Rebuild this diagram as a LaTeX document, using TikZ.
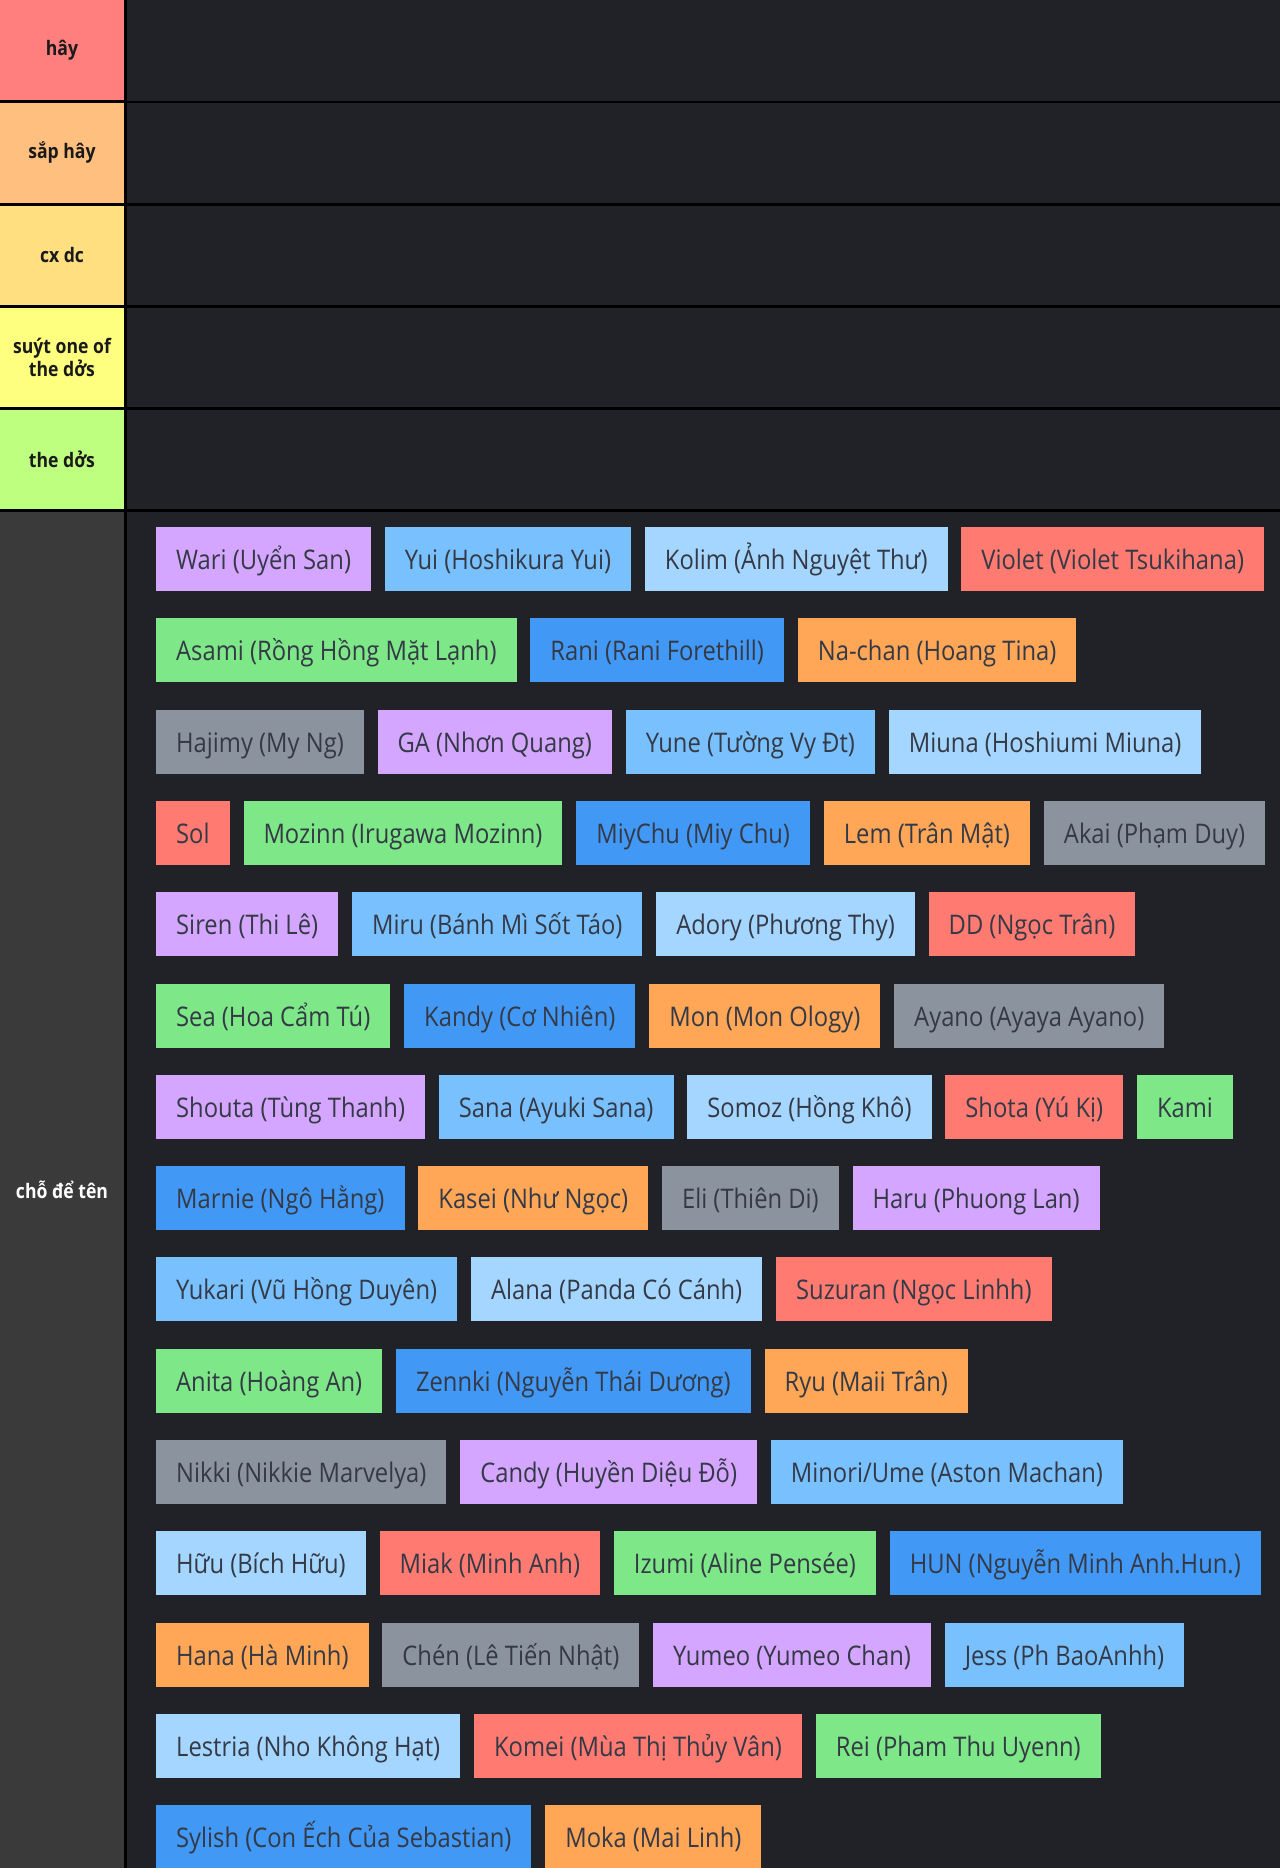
\documentclass[tikz,border=0pt]{standalone}
\usepackage{fontspec}
\usepackage{tikz}
\newfontfamily\tagfont[FakeStretch=0.88]{Open Sans}
\definecolor{INK}{HTML}{1A1A1A}
\definecolor{TXT}{HTML}{343946}
\definecolor{LANE}{HTML}{202228}
\definecolor{LASTLBL}{HTML}{3A3A3A}
\definecolor{HAY}{HTML}{FF7F7F}
\definecolor{SAPHAY}{HTML}{FFBF7F}
\definecolor{CXDC}{HTML}{FFDF7F}
\definecolor{SUYT}{HTML}{FFFF7F}
\definecolor{THEDO}{HTML}{BFFF7F}
\definecolor{PURPLE}{HTML}{D4A6FF}
\definecolor{SKY}{HTML}{79C0FF}
\definecolor{PALE}{HTML}{A5D6FF}
\definecolor{CORAL}{HTML}{FF7B72}
\definecolor{GREEN}{HTML}{7EE787}
\definecolor{BLUE}{HTML}{4299F5}
\definecolor{ORANGE}{HTML}{FFA657}
\definecolor{GREY}{HTML}{8B949E}

\begin{document}
\begin{tikzpicture}[x=1pt,y=-1pt]
\tikzset{tierlbl/.style={fill=#1,text=INK,minimum width=124,minimum height=99.5,inner sep=0,align=center,
 font=\tagfont\bfseries\fontsize{20}{23}\selectfont},
 tag/.style={fill=#1,text=TXT,anchor=west,minimum height=64,inner xsep=20,inner ysep=0,
 text height=22,text depth=1,font=\tagfont\fontsize{27}{30}\selectfont}}
\clip (0,0) rectangle (1280,1868);
\fill[black] (0,0) rectangle (1280,1868);
% tiers
\node[tierlbl=HAY] (hay) at (62,50.25) {hây};
\node[tierlbl=SAPHAY] (saphay) at (62,152.75) {sắp hây};
\node[tierlbl=CXDC] (cxdc) at (62,255.25) {cx dc};
\node[tierlbl=SUYT] (suyt) at (62,357.25) {suýt one of\\the dởs};
\node[tierlbl=THEDO] (thedo) at (62,459.25) {the dởs};
\fill[LASTLBL] (0,511.5) rectangle (124,1868);
\node[text=white,font=\tagfont\bfseries\fontsize{20}{23}\selectfont] (choten) at (62,1190) {chỗ để tên};
\fill[LANE] (127,0) rectangle (1280,100.5);
\fill[LANE] (127,103) rectangle (1280,202.5);
\fill[LANE] (127,205.5) rectangle (1280,305);
\fill[LANE] (127,307.5) rectangle (1280,407);
\fill[LANE] (127,409.5) rectangle (1280,509);
\fill[LANE] (127,511.5) rectangle (1280,1868);
% tags, one row per line group
\node[tag=PURPLE] (wari) at (156,559) {Wari (Uyển San)};
\node[tag=SKY] (yui) at ([xshift=13.5]wari.east) {Yui (Hoshikura Yui)};
\node[tag=PALE] (kolim) at ([xshift=13.5]yui.east) {Kolim (Ảnh Nguyệt Thư)};
\node[tag=CORAL] (violet) at ([xshift=13.5]kolim.east) {Violet (Violet Tsukihana)};
\node[tag=GREEN] (asami) at (156,650.3) {Asami (Rồng Hồng Mặt Lạnh)};
\node[tag=BLUE] (rani) at ([xshift=13.5]asami.east) {Rani (Rani Forethill)};
\node[tag=ORANGE] (nachan) at ([xshift=13.5]rani.east) {Na-chan (Hoang Tina)};
\node[tag=GREY] (hajimy) at (156,741.6) {Hajimy (My Ng)};
\node[tag=PURPLE] (ga) at ([xshift=13.5]hajimy.east) {GA (Nhơn Quang)};
\node[tag=SKY] (yune) at ([xshift=13.5]ga.east) {Yune (Tường Vy Đt)};
\node[tag=PALE] (miuna) at ([xshift=13.5]yune.east) {Miuna (Hoshiumi Miuna)};
\node[tag=CORAL] (sol) at (156,832.9) {Sol};
\node[tag=GREEN] (mozinn) at ([xshift=13.5]sol.east) {Mozinn (Irugawa Mozinn)};
\node[tag=BLUE] (miychu) at ([xshift=13.5]mozinn.east) {MiyChu (Miy Chu)};
\node[tag=ORANGE] (lem) at ([xshift=13.5]miychu.east) {Lem (Trân Mật)};
\node[tag=GREY] (akai) at ([xshift=13.5]lem.east) {Akai (Phạm Duy)};
\node[tag=PURPLE] (siren) at (156,924.2) {Siren (Thi Lê)};
\node[tag=SKY] (miru) at ([xshift=13.5]siren.east) {Miru (Bánh Mì Sốt Táo)};
\node[tag=PALE] (adory) at ([xshift=13.5]miru.east) {Adory (Phương Thy)};
\node[tag=CORAL] (dd) at ([xshift=13.5]adory.east) {DD (Ngọc Trân)};
\node[tag=GREEN] (sea) at (156,1015.5) {Sea (Hoa Cẩm Tú)};
\node[tag=BLUE] (kandy) at ([xshift=13.5]sea.east) {Kandy (Cơ Nhiên)};
\node[tag=ORANGE] (mon) at ([xshift=13.5]kandy.east) {Mon (Mon Ology)};
\node[tag=GREY] (ayano) at ([xshift=13.5]mon.east) {Ayano (Ayaya Ayano)};
\node[tag=PURPLE] (shouta) at (156,1106.8) {Shouta (Tùng Thanh)};
\node[tag=SKY] (sana) at ([xshift=13.5]shouta.east) {Sana (Ayuki Sana)};
\node[tag=PALE] (somoz) at ([xshift=13.5]sana.east) {Somoz (Hồng Khô)};
\node[tag=CORAL] (shota) at ([xshift=13.5]somoz.east) {Shota (Yú Kị)};
\node[tag=GREEN] (kami) at ([xshift=13.5]shota.east) {Kami};
\node[tag=BLUE] (marnie) at (156,1198.1) {Marnie (Ngô Hằng)};
\node[tag=ORANGE] (kasei) at ([xshift=13.5]marnie.east) {Kasei (Như Ngọc)};
\node[tag=GREY] (eli) at ([xshift=13.5]kasei.east) {Eli (Thiên Di)};
\node[tag=PURPLE] (haru) at ([xshift=13.5]eli.east) {Haru (Phuong Lan)};
\node[tag=SKY] (yukari) at (156,1289.4) {Yukari (Vũ Hồng Duyên)};
\node[tag=PALE] (alana) at ([xshift=13.5]yukari.east) {Alana (Panda Có Cánh)};
\node[tag=CORAL] (suzuran) at ([xshift=13.5]alana.east) {Suzuran (Ngọc Linhh)};
\node[tag=GREEN] (anita) at (156,1380.7) {Anita (Hoàng An)};
\node[tag=BLUE] (zennki) at ([xshift=13.5]anita.east) {Zennki (Nguyễn Thái Dương)};
\node[tag=ORANGE] (ryu) at ([xshift=13.5]zennki.east) {Ryu (Maii Trân)};
\node[tag=GREY] (nikki) at (156,1472) {Nikki (Nikkie Marvelya)};
\node[tag=PURPLE] (candy) at ([xshift=13.5]nikki.east) {Candy (Huyền Diệu Đỗ)};
\node[tag=SKY] (minori) at ([xshift=13.5]candy.east) {Minori/Ume (Aston Machan)};
\node[tag=PALE] (huu) at (156,1563.3) {Hữu (Bích Hữu)};
\node[tag=CORAL] (miak) at ([xshift=13.5]huu.east) {Miak (Minh Anh)};
\node[tag=GREEN] (izumi) at ([xshift=13.5]miak.east) {Izumi (Aline Pensée)};
\node[tag=BLUE] (hun) at ([xshift=13.5]izumi.east) {HUN (Nguyễn Minh Anh.Hun.)};
\node[tag=ORANGE] (hana) at (156,1654.6) {Hana (Hà Minh)};
\node[tag=GREY] (chen) at ([xshift=13.5]hana.east) {Chén (Lê Tiến Nhật)};
\node[tag=PURPLE] (yumeo) at ([xshift=13.5]chen.east) {Yumeo (Yumeo Chan)};
\node[tag=SKY] (jess) at ([xshift=13.5]yumeo.east) {Jess (Ph BaoAnhh)};
\node[tag=PALE] (lestria) at (156,1745.9) {Lestria (Nho Không Hạt)};
\node[tag=CORAL] (komei) at ([xshift=13.5]lestria.east) {Komei (Mùa Thị Thủy Vân)};
\node[tag=GREEN] (rei) at ([xshift=13.5]komei.east) {Rei (Pham Thu Uyenn)};
\node[tag=BLUE] (sylish) at (156,1837.2) {Sylish (Con Ếch Của Sebastian)};
\node[tag=ORANGE] (moka) at ([xshift=13.5]sylish.east) {Moka (Mai Linh)};
\end{tikzpicture}
\end{document}
